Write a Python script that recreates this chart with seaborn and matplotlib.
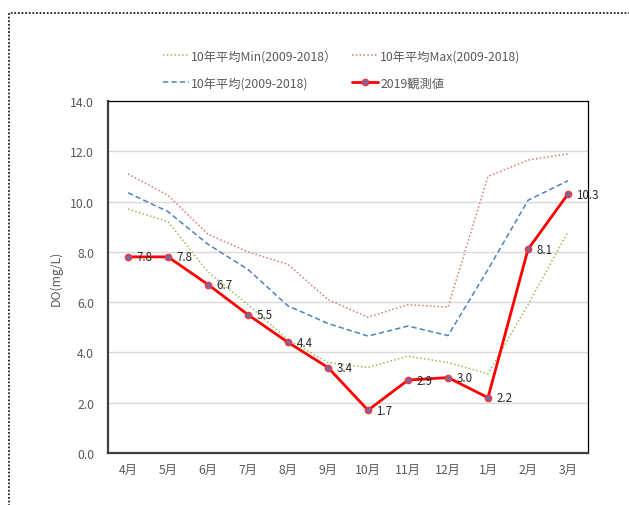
import numpy as np
import pandas as pd
import seaborn as sns
import matplotlib.pyplot as plt
from matplotlib.patches import Rectangle
from matplotlib.lines import Line2D

months = ["4月", "5月", "6月", "7月", "8月", "9月", "10月", "11月", "12月", "1月", "2月", "3月"]
avg_min = [9.7, 9.2, 7.2, 5.9, 4.5, 3.6, 3.4, 3.85, 3.6, 3.15, 5.9, 8.8]
avg_max = [11.1, 10.25, 8.7, 8.0, 7.5, 6.1, 5.4, 5.9, 5.8, 11.0, 11.65, 11.9]
avg_mean = [10.35, 9.6, 8.3, 7.3, 5.85, 5.15, 4.65, 5.05, 4.67, 7.3, 10.05, 10.83]
obs_2019 = [7.8, 7.8, 6.7, 5.5, 4.4, 3.4, 1.7, 2.9, 3.0, 2.2, 8.1, 10.3]

labels = ["10年平均Min(2009-2018）", "10年平均Max(2009-2018)", "10年平均(2009-2018)", "2019観測値"]

sns.set_style("white")
plt.rcParams['font.family'] = ['Noto Sans CJK JP', 'DejaVu Sans']

df = pd.DataFrame({"month": months, "min": avg_min, "max": avg_max,
                   "mean": avg_mean, "obs": obs_2019})

fig = plt.figure(figsize=(6.29, 5.06), dpi=100)
ax = fig.add_axes([0.1717, 0.1028, 0.7631, 0.6956])

gray = "#595959"
c_min, c_max, c_mean, c_obs = "#9BBB59", "#D47A78", "#4F81BD", "#FF0000"
fs = 8.8

sns.lineplot(data=df, x="month", y="min", ax=ax, color=c_min, linestyle=(0, (1, 1.5)), lw=1.1, sort=False)
sns.lineplot(data=df, x="month", y="max", ax=ax, color=c_max, linestyle=(0, (1, 1.5)), lw=1.1, sort=False)
sns.lineplot(data=df, x="month", y="mean", ax=ax, color=c_mean, linestyle=(0, (3.5, 2)), lw=1.1, sort=False)
sns.lineplot(data=df, x="month", y="obs", ax=ax, color=c_obs, lw=2, sort=False,
             marker="o", markersize=4.5, markerfacecolor="#6B6BAE", markeredgecolor="#FF3030",
             markeredgewidth=1)

for i, v in enumerate(obs_2019):
    ax.annotate(f"{v:.1f}", (i, v), xytext=(6, 0), textcoords="offset points",
                va="center", ha="left", fontsize=8.3, color="#262626")

ax.set_xlim(-0.5, 11.5)
ax.set_ylim(0, 14)
ax.set_yticks(np.arange(0, 14.1, 2))
ax.set_yticklabels([f"{t:.1f}" for t in np.arange(0, 14.1, 2)])
ax.grid(axis="y", color="#D9D9D9", lw=1)
ax.set_axisbelow(True)
ax.tick_params(axis="both", length=0, labelsize=fs, labelcolor=gray)
ax.tick_params(axis="x", pad=7)
ax.tick_params(axis="y", pad=10)
ax.set_xlabel("")
ax.set_ylabel("DO(mg/L)", fontsize=fs, color=gray, labelpad=5)

for side in ["left", "bottom"]:
    ax.spines[side].set_color("#404040")
    ax.spines[side].set_linewidth(1.6)
for side in ["top", "right"]:
    ax.spines[side].set_color("black")
    ax.spines[side].set_linewidth(0.9)

handles = [
    Line2D([], [], color=c_min, linestyle=(0, (1, 1.5)), lw=1.1),
    Line2D([], [], color=c_mean, linestyle=(0, (3.5, 2)), lw=1.1),
    Line2D([], [], color=c_max, linestyle=(0, (1, 1.5)), lw=1.1),
    Line2D([], [], color=c_obs, lw=2, marker="o", markersize=4.5,
           markerfacecolor="#6B6BAE", markeredgecolor="#FF3030"),
]
leg_labels = [labels[0], labels[2], labels[1], labels[3]]
fig.legend(handles, leg_labels, ncol=2, loc="upper left", bbox_to_anchor=(0.242, 0.922),
           frameon=False, fontsize=fs, labelcolor=gray, handlelength=2.1,
           handletextpad=0.2, columnspacing=1.2, labelspacing=1.15)

fig.add_artist(Rectangle((9 / 629, -0.1), 1.2, 1.1 - 14 / 506, transform=fig.transFigure,
                         fill=False, lw=1.3, linestyle=(0, (1, 1)), edgecolor="#222222", clip_on=False))

fig.savefig("out.png", dpi=100)
